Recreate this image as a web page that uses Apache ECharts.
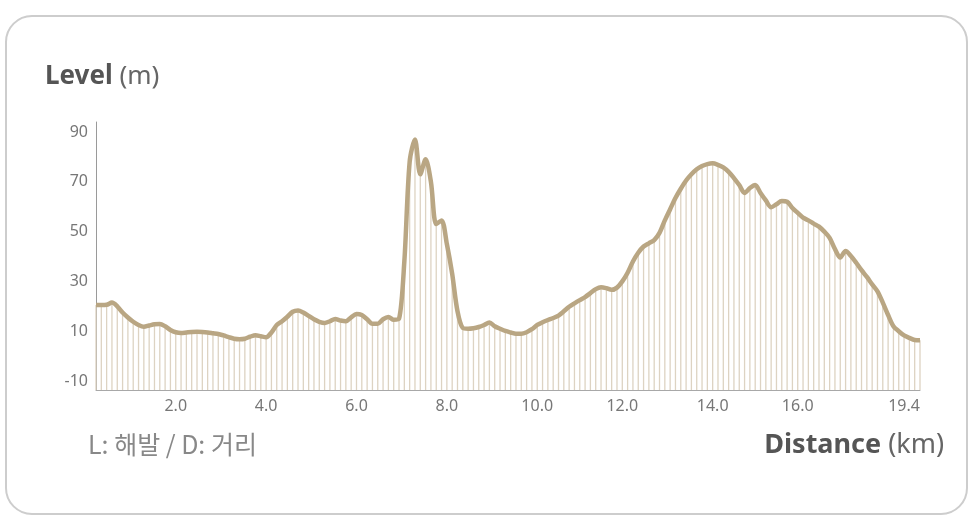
<!DOCTYPE html>
<html>
<head>
<meta charset="utf-8">
<script src="https://cdn.jsdelivr.net/npm/echarts@6/dist/echarts.min.js"></script>
<style>
  html, body { margin: 0; padding: 0; background: #fff; }
  #elevation-chart { width: 978px; height: 530px; }
</style>
</head>
<body>
<div id="elevation-chart"></div>
<script>
// elevation (m) sampled along the route, one value per stripe
const level = [
  20.5, 20.5, 20.6, 21.5, 20.0, 17.5, 15.5, 13.8, 12.5, 11.8,
  12.3, 12.8, 12.9, 12.0, 10.5, 9.6, 9.3, 9.5, 9.7, 9.8,
  9.7, 9.5, 9.2, 8.9, 8.3, 7.6, 7.0, 6.8, 7.0, 7.8,
  8.4, 8.0, 7.6, 9.5, 12.5, 14.0, 15.8, 17.8, 18.3, 17.5,
  16.2, 14.8, 13.8, 13.3, 14.0, 14.9, 14.3, 14.0, 15.6, 16.9,
  16.5, 14.8, 13.0, 13.0, 14.8, 15.7, 14.6, 15.0, 38.0, 78.0,
  87.0, 73.0, 79.0, 70.0, 53.0, 54.5, 45.0, 33.0, 18.0, 11.3,
  11.0, 11.2, 11.7, 12.5, 13.5, 12.0, 11.0, 10.1, 9.5, 9.0,
  9.0, 9.6, 10.8, 12.5, 13.6, 14.5, 15.3, 16.3, 18.0, 19.8,
  21.2, 22.5, 23.7, 25.3, 26.9, 27.7, 27.3, 26.6, 27.5, 30.0,
  33.5, 38.0, 41.5, 44.0, 45.3, 46.6, 49.5, 54.5, 59.0, 63.5,
  67.2, 70.5, 73.0, 75.0, 76.3, 77.1, 77.4, 76.8, 75.8, 74.0,
  71.5, 68.7, 65.5, 67.5, 68.7, 65.5, 62.5, 59.8, 61.0, 62.3,
  62.0, 59.5, 57.5, 55.6, 54.5, 53.2, 52.0, 50.0, 47.5, 43.0,
  39.6, 42.2, 40.2, 37.5, 34.5, 31.8, 28.8, 26.0, 21.5, 16.5,
  12.0, 10.0, 8.3, 7.3, 6.5, 6.4
]
// distance tick labels and the sample index they sit on
const distLabels = ['2.0', '4.0', '6.0', '8.0', '10.0', '12.0', '14.0', '16.0', '19.4']
const distLabelIdx = [15, 32, 49, 66, 83, 99, 116, 132, 152]
const levelTicks = [-10, 10, 30, 50, 70, 90]

const Y_MIN = -13.6
const Y_MAX = 94

const chart = echarts.init(document.getElementById('elevation-chart'))
const categories = level.map((v, i) => String(i))

const option = {
  animation: false,
  grid: { left: 96, right: 58, top: 122, bottom: 140 },
  graphic: [
    {
      type: 'rect',
      z: -10,
      shape: { x: 6, y: 16, width: 961, height: 498, r: 26 },
      style: { fill: '#fff', stroke: '#cdcdcd', lineWidth: 2 }
    },
    {
      type: 'text',
      left: 45,
      top: 64,
      style: {
        text: '{b|Level }{r|(m)}',
        rich: {
          b: { fontFamily: 'Noto Sans', fontSize: 26, fontWeight: 'bold', fill: '#555' },
          r: { fontFamily: 'Noto Sans', fontSize: 26, fill: '#666' }
        }
      }
    },
    {
      type: 'text',
      left: 88,
      top: 432,
      style: {
        text: 'L: 해발 / D: 거리',
        fontFamily: 'Noto Sans CJK KR',
        fontSize: 25,
        fill: '#888'
      }
    },
    {
      type: 'text',
      right: 34,
      top: 432,
      style: {
        text: '{b|Distance }{r|(km)}',
        rich: {
          b: { fontFamily: 'Noto Sans', fontSize: 27, fontWeight: 'bold', fill: '#555' },
          r: { fontFamily: 'Noto Sans', fontSize: 27, fill: '#666' }
        }
      }
    }
  ],
  xAxis: {
    type: 'category',
    data: categories,
    boundaryGap: false,
    axisLine: { onZero: false, lineStyle: { color: '#a8a8a8', width: 1 } },
    axisTick: { show: false },
    axisLabel: {
      interval: (index) => distLabelIdx.includes(index),
      formatter: (value, index) => distLabels[distLabelIdx.indexOf(index)] || '',
      color: '#777',
      fontFamily: 'Noto Sans',
      fontSize: 16,
      margin: 8
    },
    splitLine: { show: false }
  },
  yAxis: {
    type: 'value',
    min: Y_MIN,
    max: Y_MAX,
    axisLine: { show: true, lineStyle: { color: '#9a9a9a', width: 1 } },
    axisTick: { show: false },
    splitLine: { show: false },
    axisLabel: {
      customValues: levelTicks,
      color: '#777',
      fontFamily: 'Noto Sans',
      fontSize: 16,
      margin: 8
    }
  },
  series: [
    {
      type: 'custom',
      data: level.map((v, i) => [i, v]),
      renderItem: (params, api) => {
        const top = api.coord([api.value(0), api.value(1)])
        const bottom = api.coord([api.value(0), Y_MIN])
        return {
          type: 'line',
          shape: { x1: top[0], y1: top[1], x2: bottom[0], y2: bottom[1] },
          style: { stroke: '#ddd3c2', lineWidth: 1.3 }
        }
      },
      z: 1
    },
    {
      type: 'line',
      data: level,
      smooth: 0.3,
      showSymbol: false,
      lineStyle: { color: '#b9a683', width: 4.5 },
      z: 3
    }
  ]
}

chart.setOption(option)
</script>
</body>
</html>
